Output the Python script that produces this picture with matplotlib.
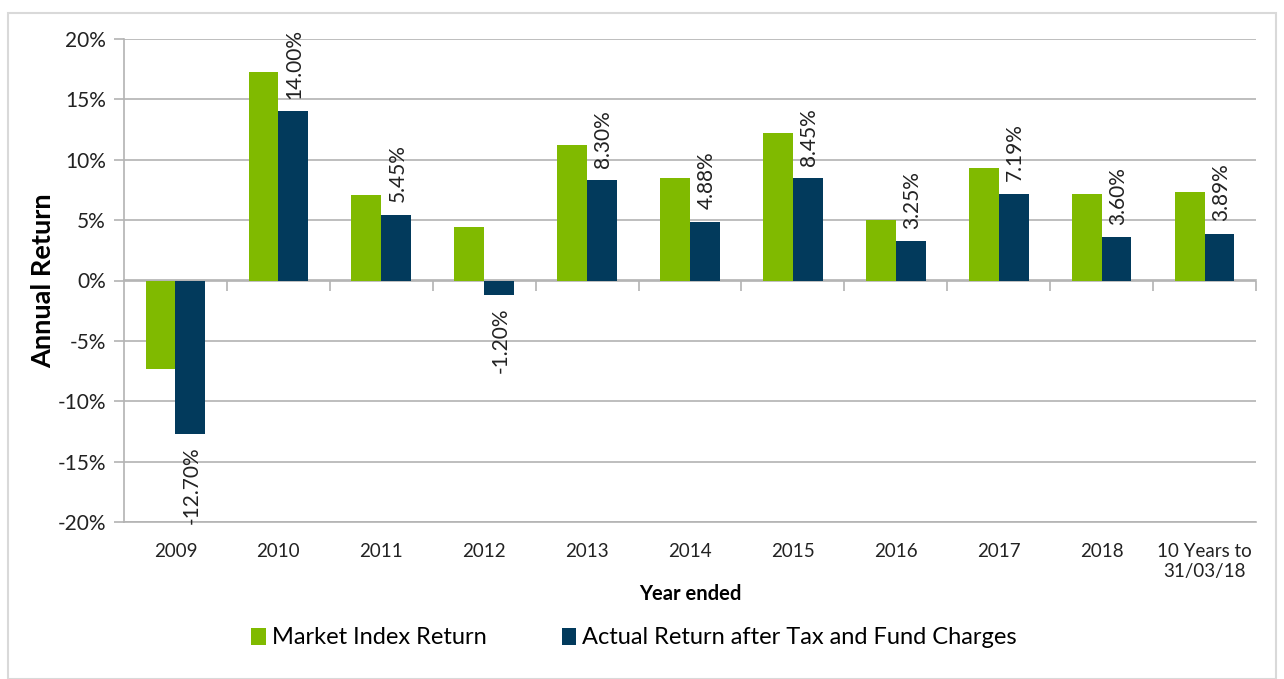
import matplotlib
matplotlib.use("Agg")
import matplotlib.pyplot as plt
import matplotlib.patches as patches
import numpy as np

plt.rcParams['font.family'] = ['Lato', 'DejaVu Sans']

categories = ["2009", "2010", "2011", "2012", "2013", "2014", "2015", "2016", "2017", "2018",
              "10 Years to\n31/03/18"]
marketReturn = [-7.35, 17.3, 7.1, 4.4, 11.2, 8.45, 12.2, 5.05, 9.35, 7.2, 7.3]
actualReturn = [-12.70, 14.00, 5.45, -1.20, 8.30, 4.88, 8.45, 3.25, 7.19, 3.60, 3.89]
seriesNames = ["Market Index Return", "Actual Return after Tax and Fund Charges"]

GREEN = "#80ba00"
NAVY = "#023a5c"
GRID = "#b3b3b3"

fig = plt.figure(figsize=(12.84, 6.79), dpi=100)
fig.patches.append(patches.Rectangle((8 / 1284, 0), 1268 / 1284, 1 - 13 / 679, transform=fig.transFigure,
                                     fill=False, edgecolor="#d9d9d9", linewidth=1.5))
ax = fig.add_axes([124 / 1284, 1 - 522 / 679, 1132 / 1284, 483 / 679])

ind = np.arange(len(categories))
width = 0.29
ax.bar(ind - width / 2, marketReturn, width, color=GREEN, label=seriesNames[0], zorder=3)
ax.bar(ind + width / 2, actualReturn, width, color=NAVY, label=seriesNames[1], zorder=3)

for i, v in enumerate(actualReturn):
    off = 9 if v >= 0 else -9
    ax.annotate("%.2f%%" % v, (ind[i] + width / 2, v), xytext=(1, off), textcoords="offset points",
                rotation=90, ha="center", va="bottom" if v >= 0 else "top", fontsize=15, color="#222222")

ax.set_xlim(-0.5, len(categories) - 0.5)
ax.set_ylim(-20, 20)
ax.set_yticks(np.arange(-20, 21, 5))
ax.set_yticklabels(["%d%%" % t for t in np.arange(-20, 21, 5)], fontsize=15, color="#222222")
ax.yaxis.grid(True, color=GRID, linewidth=1.2, zorder=0)
ax.tick_params(axis="y", length=7, color=GRID, width=1.2, pad=6)

ax.set_xticks(ind)
ax.set_xticklabels(categories, fontsize=13.5, color="#222222")
ax.tick_params(axis="x", length=0, pad=15)

for s in ["top", "right"]:
    ax.spines[s].set_visible(False)
ax.spines["left"].set_color(GRID)
ax.spines["left"].set_linewidth(1.2)
ax.spines["bottom"].set_color(GRID)
ax.spines["bottom"].set_linewidth(1.2)

# zero line with category separators
zeroAx = ax.secondary_xaxis(0.5)
zeroAx.xaxis.set_ticks_position("bottom")
zeroAx.set_xticks(np.arange(0.5, len(categories), 1.0))
zeroAx.set_xticklabels([])
zeroAx.tick_params(length=7, color=GRID, width=1.2, direction="out")
for s in zeroAx.spines.values():
    s.set_color(GRID)
    s.set_linewidth(1.2)

ax.set_ylabel("Annual Return", fontsize=19.5, fontweight="bold", labelpad=2)
ax.set_xlabel("Year ended", fontsize=14.5, fontweight="bold", labelpad=3)

fig.legend(loc="center", bbox_to_anchor=(634 / 1284, 1 - 638 / 679), ncol=2, frameon=False,
           fontsize=17, handlelength=0.6, handleheight=0.7, handletextpad=0.25, columnspacing=3.2)

fig.savefig("out.png", dpi=100)
